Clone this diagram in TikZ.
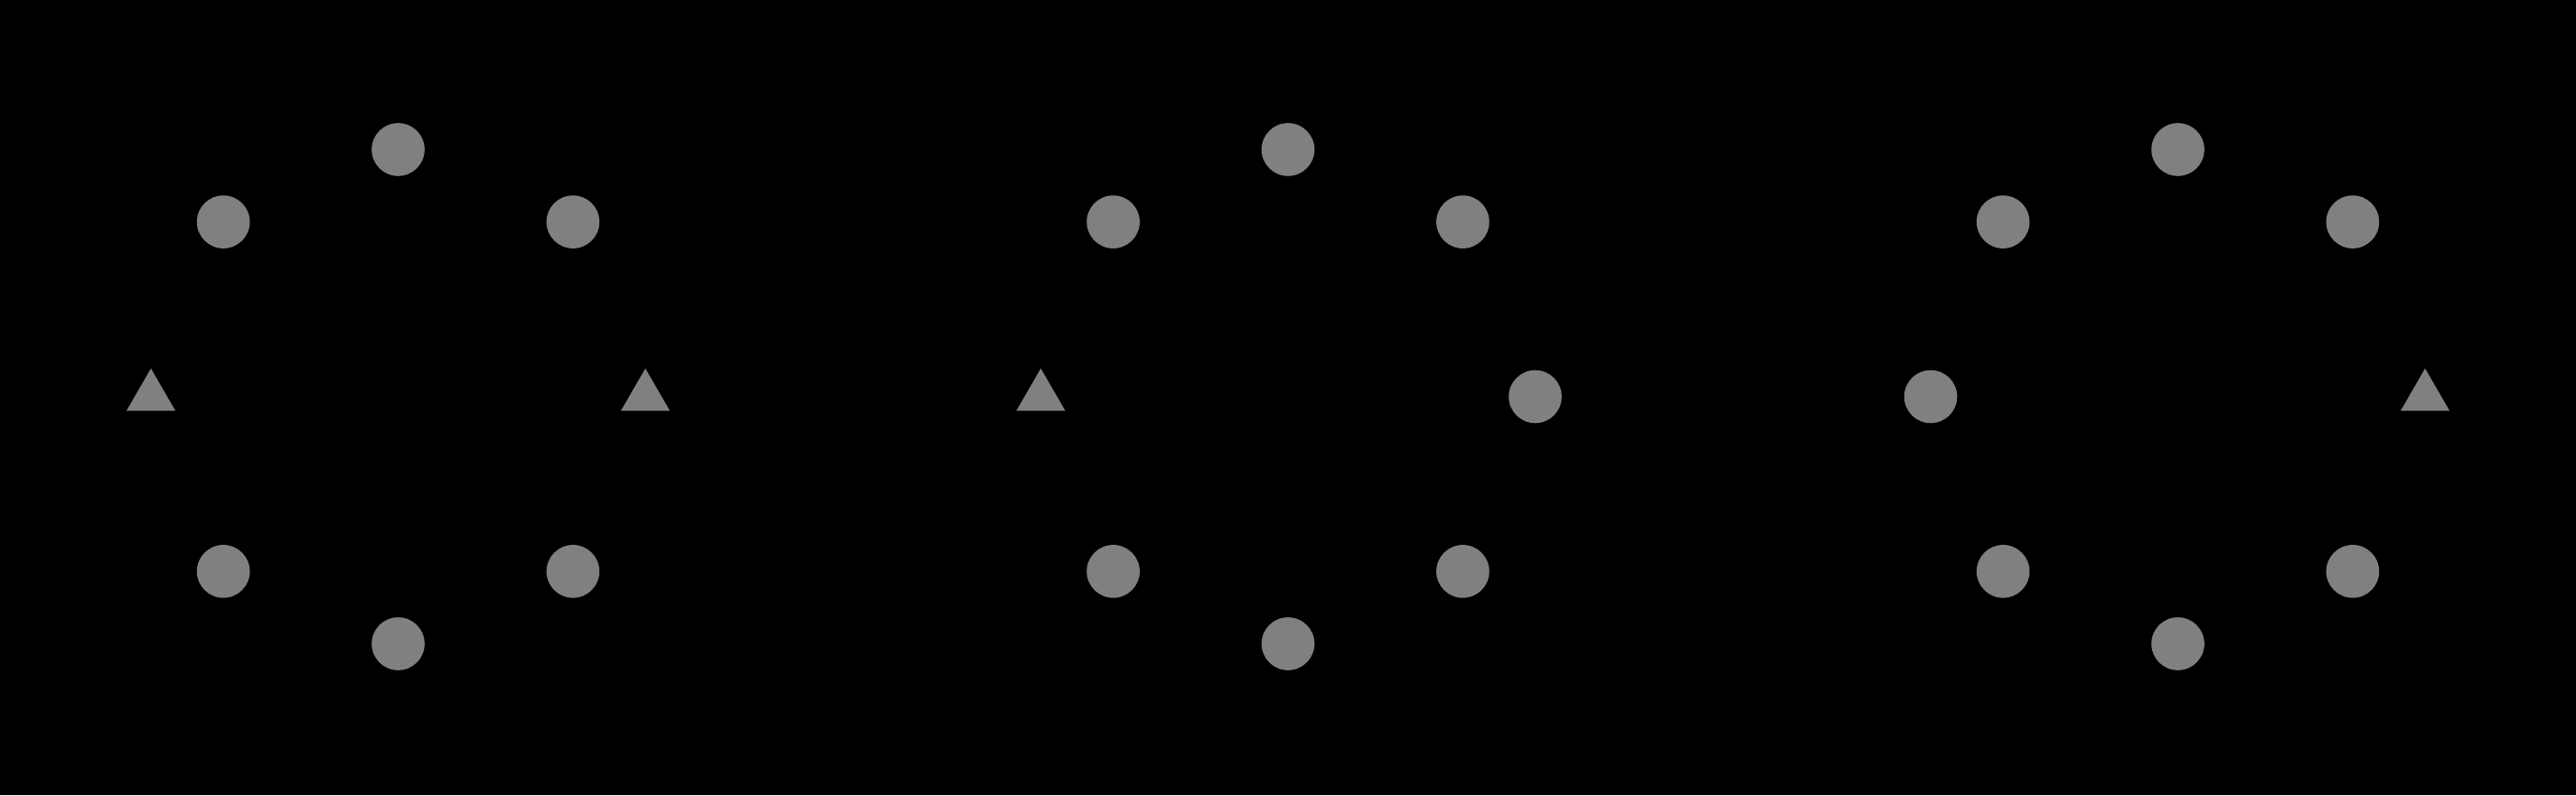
\documentclass[tikz,border=0pt]{standalone}
\usepackage{tikz}
\usetikzlibrary{shapes.geometric}
\definecolor{ptgray}{HTML}{808080}

\begin{document}
\begin{tikzpicture}[
    dot/.style={circle, fill=ptgray, minimum size=0.586cm, inner sep=0pt},
    tri/.style={regular polygon, regular polygon sides=3, fill=ptgray, minimum size=0.624cm, inner sep=0pt}
]
\fill[black] (0,0) rectangle (28.5,8.8);
\useasboundingbox (0,0) rectangle (28.5,8.8);

% ring 1: triangles left and right
\foreach \a/\i in {45/1,90/2,135/3,225/5,270/6,315/7}
  \node[dot] (a\i) at ([shift={(4.405,4.41)}]\a:2.735) {};
\node[tri] (a4) at ([shift={(4.405,4.41)}]180:2.735) {};
\node[tri] (a0) at ([shift={(4.405,4.41)}]0:2.735) {};

% ring 2: triangle left only
\foreach \a/\i in {0/0,45/1,90/2,135/3,225/5,270/6,315/7}
  \node[dot] (b\i) at ([shift={(14.25,4.41)}]\a:2.735) {};
\node[tri] (b4) at ([shift={(14.25,4.41)}]180:2.735) {};

% ring 3: triangle right only
\foreach \a/\i in {45/1,90/2,135/3,180/4,225/5,270/6,315/7}
  \node[dot] (c\i) at ([shift={(24.095,4.41)}]\a:2.735) {};
\node[tri] (c0) at ([shift={(24.095,4.41)}]0:2.735) {};
\end{tikzpicture}
\end{document}
